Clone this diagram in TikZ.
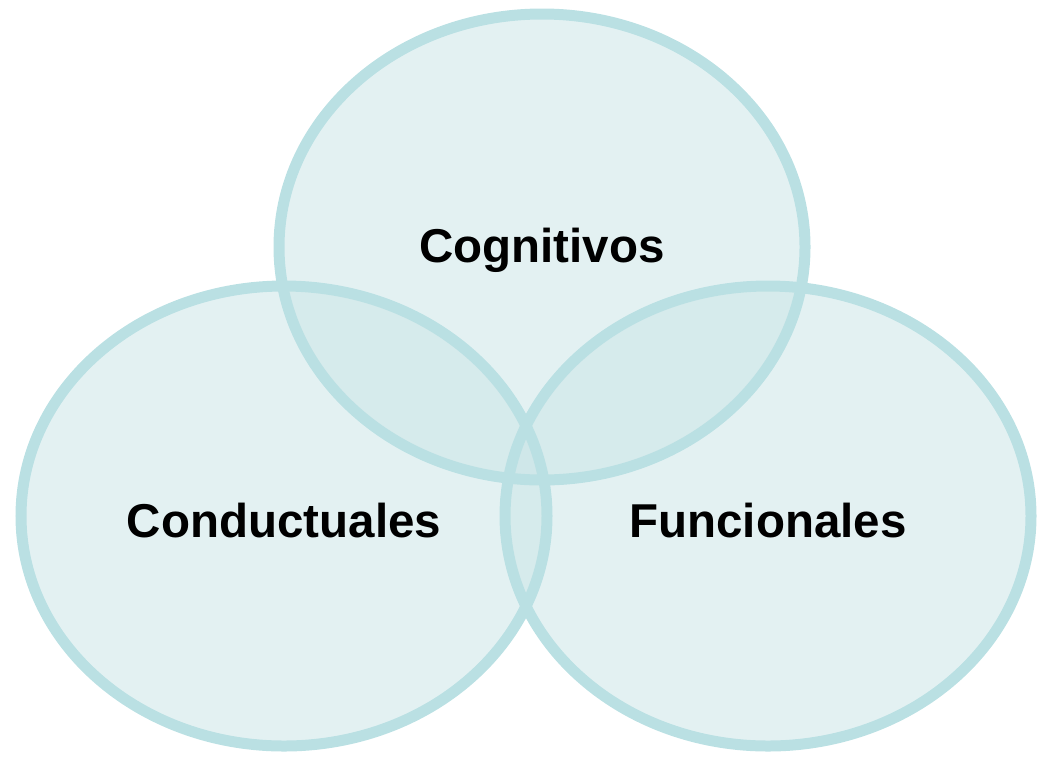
\documentclass[tikz,border=0pt]{standalone}
\usepackage{fontspec}
\setmainfont{Liberation Sans}
\usetikzlibrary{shapes}
\definecolor{ringline}{RGB}{186,224,227}
\definecolor{ringfill}{RGB}{200,228,230}

\begin{document}
\begin{tikzpicture}[x=1pt,y=-1pt,every node/.style={font=\fontsize{47.5}{56}\selectfont\bfseries},
    ring/.style={ellipse,inner sep=0pt,minimum width=526pt,fill=ringfill,fill opacity=0.5,text opacity=1,text depth=0pt},
    rim/.style={draw=ringline,line width=11pt}]
  \useasboundingbox (0,0) rectangle (1040,758);

  \node[ring,minimum height=466pt,text height=30pt] (COG) at (542,247) {Cognitivos};
  \node[ring,minimum height=460pt,text height=42pt] (CON) at (284,516) {Conductuales};
  \node[ring,minimum height=460pt,text height=42pt] (FUN) at (768,516) {Funcionales};

  \draw[rim] (COG.center) ellipse [x radius=263,y radius=233];
  \draw[rim] (CON.center) ellipse [x radius=263,y radius=230];
  \draw[rim] (FUN.center) ellipse [x radius=263,y radius=230];
\end{tikzpicture}
\end{document}
